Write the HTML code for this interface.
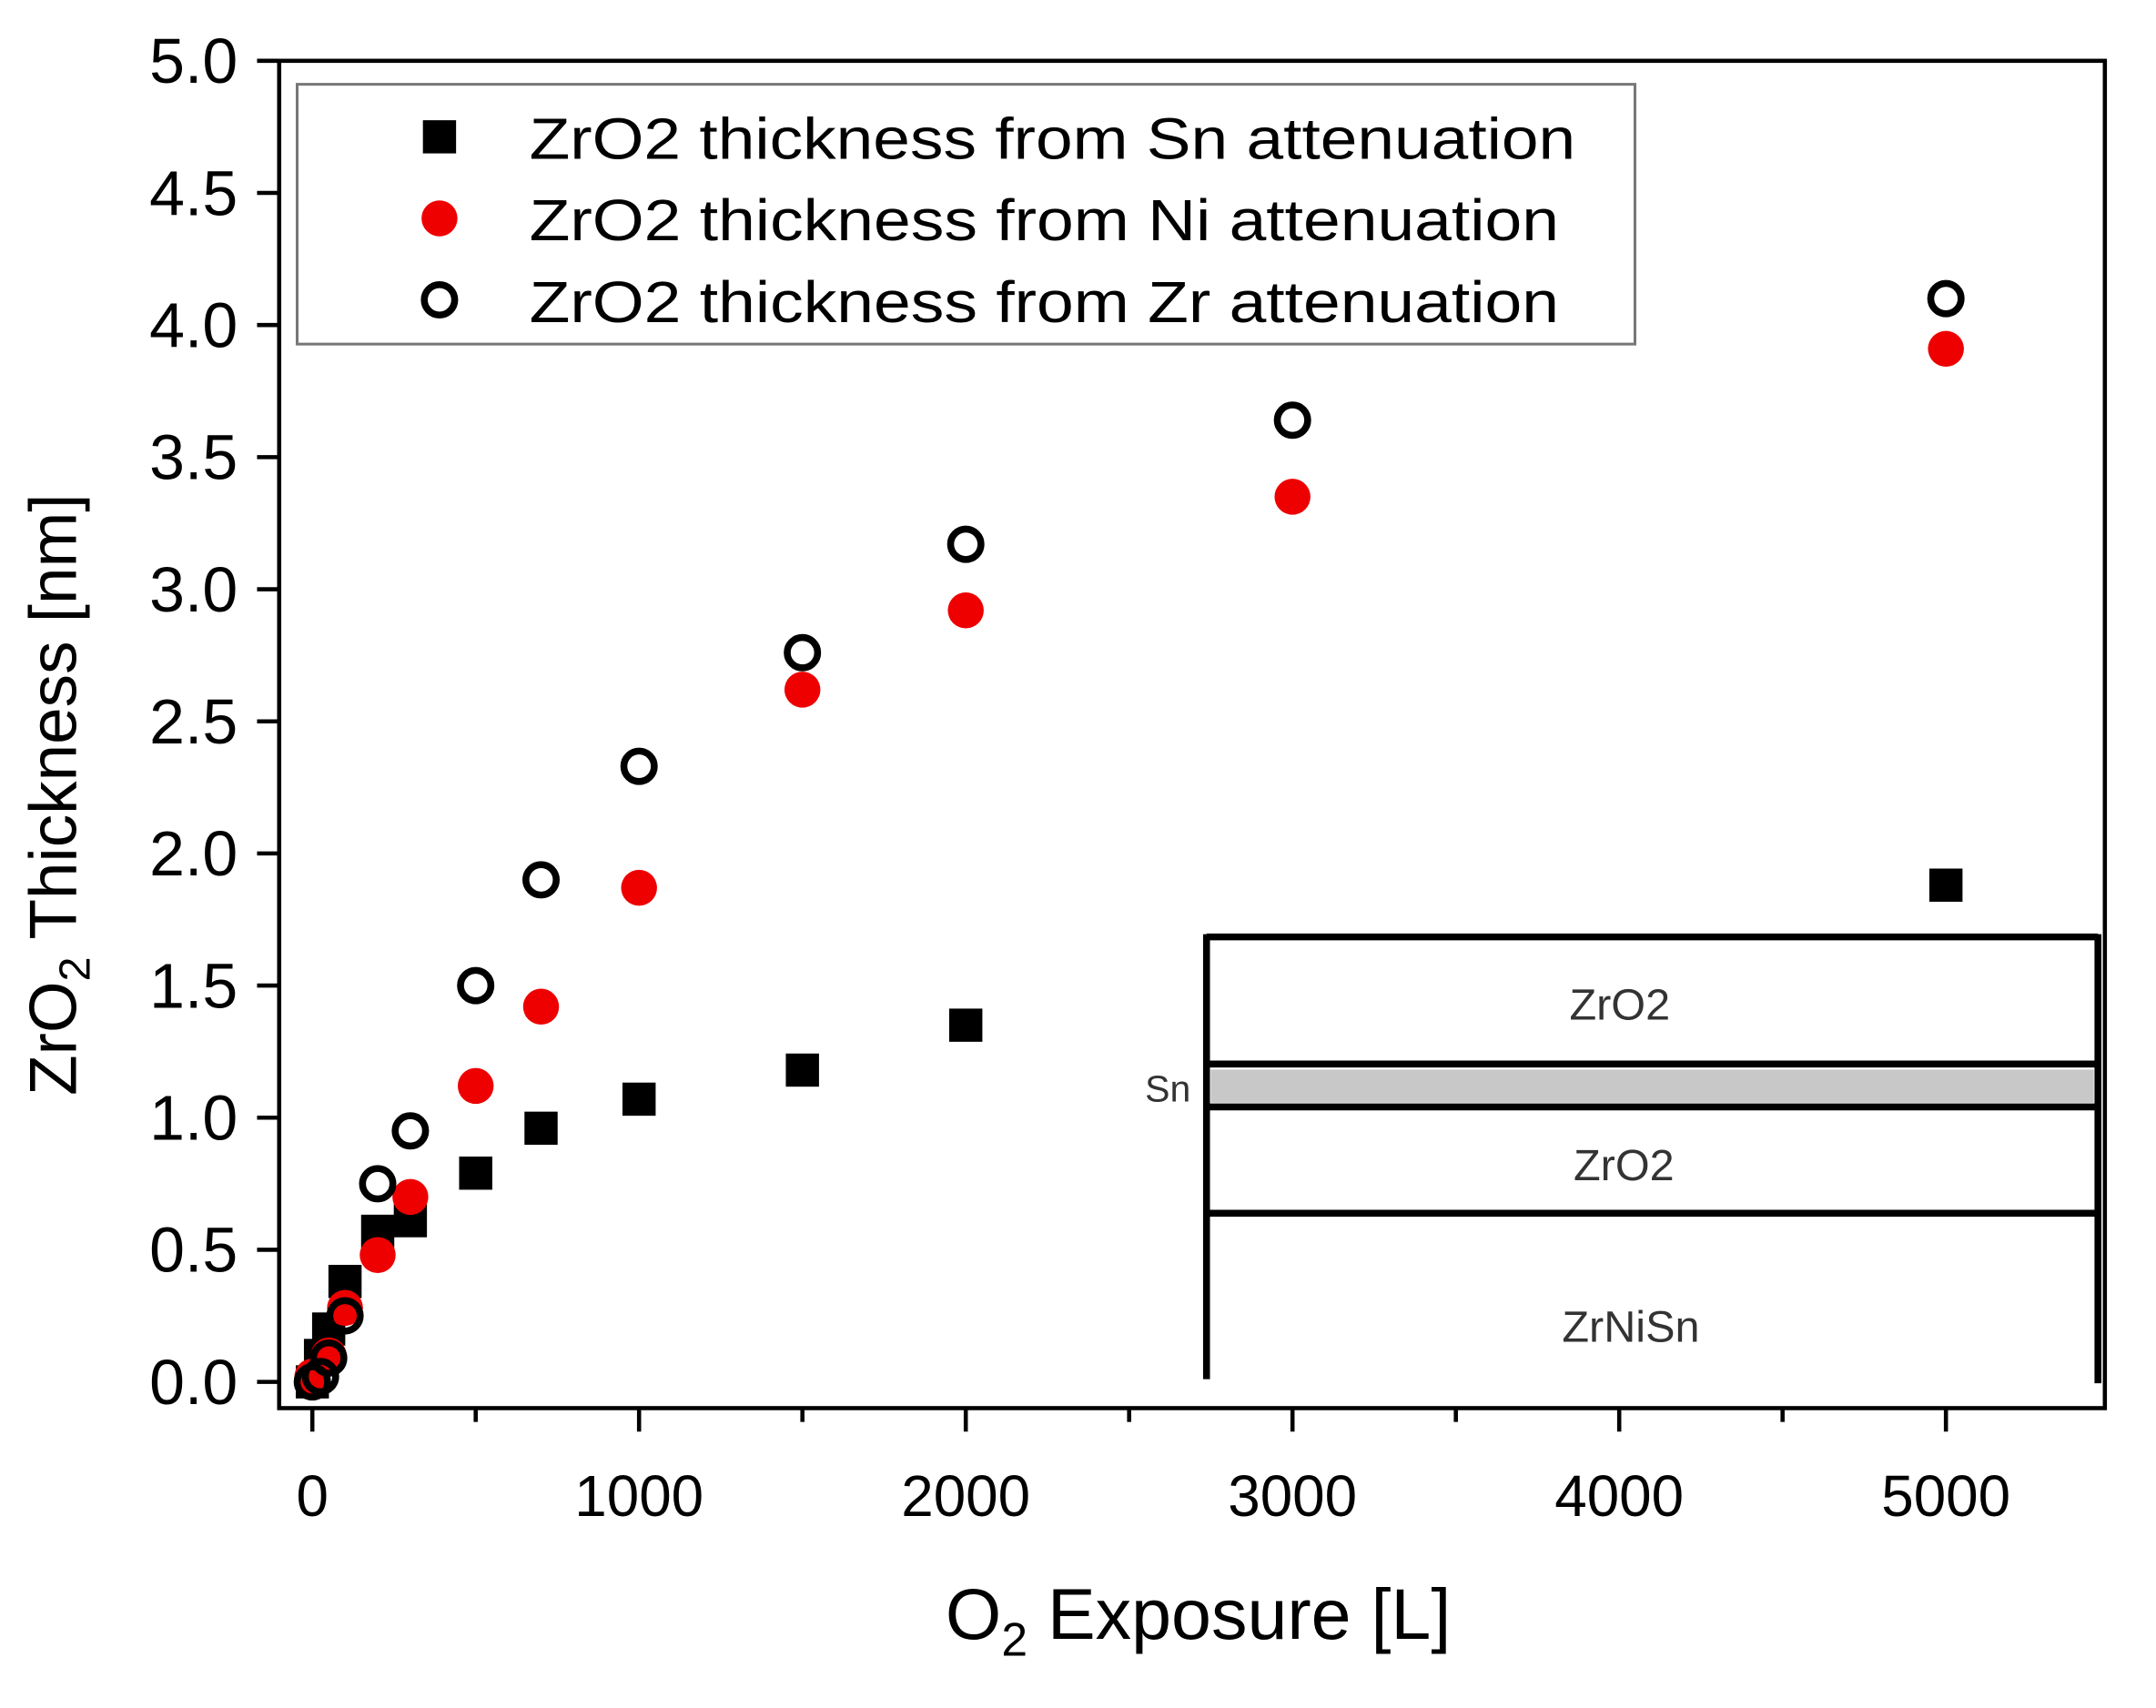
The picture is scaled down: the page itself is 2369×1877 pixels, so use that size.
<!DOCTYPE html>
<html><head><meta charset="utf-8"><style>
html,body{margin:0;padding:0;background:#fff}
svg{display:block}
text{font-family:"Liberation Sans",sans-serif}
</style></head><body>
<svg id="chart" width="2369" height="1877" viewBox="0 0 1560 1236" xmlns="http://www.w3.org/2000/svg">
<g id="axes"></g>
<g id="inset">
  <line x1="873" y1="678" x2="1518" y2="678" stroke="#000" stroke-width="5"/>
  <line x1="873" y1="676" x2="873" y2="998" stroke="#000" stroke-width="5"/>
  <line x1="1518" y1="676" x2="1518" y2="1001" stroke="#000" stroke-width="5"/>
  <rect x="876" y="774" width="639" height="24" fill="#c8c8c8"/>
  <line x1="873" y1="770" x2="1518" y2="770" stroke="#000" stroke-width="5"/>
  <line x1="873" y1="801" x2="1518" y2="801" stroke="#000" stroke-width="5"/>
  <line x1="873" y1="878" x2="1518" y2="878" stroke="#000" stroke-width="5"/>
  <text x="1172" y="738" font-size="32" fill="#333" text-anchor="middle">ZrO2</text>
  <text x="845" y="797" font-size="27" fill="#333" text-anchor="middle">Sn</text>
  <text x="1175" y="854" font-size="32" fill="#333" text-anchor="middle">ZrO2</text>
  <text x="1180" y="971" font-size="32" fill="#333" text-anchor="middle">ZrNiSn</text>
</g>
<g id="marks"></g>
<g id="legend">
  <rect x="215" y="61" width="968" height="188" fill="#fff" stroke="#777" stroke-width="2"/>
  <rect x="306" y="87" width="24" height="24" fill="#000"/>
  <text x="383" y="115" font-size="42" textLength="757" lengthAdjust="spacingAndGlyphs">ZrO2 thickness from Sn attenuation</text>
  <circle cx="318" cy="158" r="13" fill="#e00"/>
  <text x="383" y="174" font-size="42" textLength="745" lengthAdjust="spacingAndGlyphs">ZrO2 thickness from Ni attenuation</text>
  <circle cx="318" cy="217" r="11" fill="#fff" stroke="#000" stroke-width="5"/>
  <text x="383" y="233" font-size="42" textLength="745" lengthAdjust="spacingAndGlyphs">ZrO2 thickness from Zr attenuation</text>
</g>
<text x="0" y="0" font-size="48" text-anchor="middle" transform="translate(55,575) rotate(-90)">ZrO<tspan font-size="32" dy="10">2</tspan><tspan dy="-10"> Thickness [nm]</tspan></text>
<text x="867" y="1186" font-size="52" text-anchor="middle">O<tspan font-size="34" dy="12">2</tspan><tspan dy="-12"> Exposure [L]</tspan></text>
</svg>
<script>
const snX=[0,25,50,100,200,300,500,700,1000,1500,2000,5000];
const snY=[0,0.1,0.2,0.38,0.57,0.61,0.79,0.96,1.07,1.18,1.35,1.88];
const niX=[0,50,100,200,300,500,700,1000,1500,2000,3000,5000];
const niY=[0.02,0.1,0.28,0.48,0.7,1.12,1.42,1.87,2.62,2.92,3.35,3.91];
const zrX=[0,25,50,100,200,300,500,700,1000,1500,2000,3000,5000];
const zrY=[0,0.02,0.09,0.25,0.75,0.95,1.5,1.9,2.33,2.76,3.17,3.64,4.1];
const xTicks=[0,1000,2000,3000,4000,5000];
const xMinor=[500,1500,2500,3500,4500];
const yTicks=["0.0","0.5","1.0","1.5","2.0","2.5","3.0","3.5","4.0","4.5","5.0"];
const NS="http://www.w3.org/2000/svg";
function sx(v){return 226+v*(1408-226)/5000;}
function sy(v){return 1000-v*(1000-44)/5;}
function mk(tag,attrs,parent){const e=document.createElementNS(NS,tag);for(const k in attrs)e.setAttribute(k,attrs[k]);parent.appendChild(e);return e;}
const axes=document.getElementById('axes');
const frame=mk('rect',{x:202,y:44,width:1321,height:975,fill:'none',stroke:'#000','stroke-width':3},axes);


xTicks.forEach(v=>{
  const t=mk('line',{x1:sx(v),y1:1019,x2:sx(v),y2:1036,stroke:'#000','stroke-width':3},axes);
  
  
  const l=mk('text',{x:sx(v),y:1097,'font-size':42,'text-anchor':'middle'},axes);
  l.textContent=v;
  
  
});
xMinor.forEach(v=>{
  const t=mk('line',{x1:sx(v),y1:1019,x2:sx(v),y2:1029,stroke:'#000','stroke-width':3},axes);
  
  
});
yTicks.forEach(s=>{
  const v=parseFloat(s);
  const t=mk('line',{x1:186,y1:sy(v),x2:202,y2:sy(v),stroke:'#000','stroke-width':3},axes);
  
  
  const l=mk('text',{x:172,y:sy(v)+16,'font-size':46,'text-anchor':'end'},axes);
  l.textContent=s;
  
  
});
const marks=document.getElementById('marks');
snX.forEach((x,i)=>{
  const r=mk('rect',{x:sx(x)-12,y:sy(snY[i])-12,width:24,height:24,fill:'#000'},marks);
  
  
});
niX.forEach((x,i)=>{
  const c=mk('circle',{cx:sx(x),cy:sy(niY[i]),r:13,fill:'#e00'},marks);
  
  
});
zrX.forEach((x,i)=>{
  const c=mk('circle',{cx:sx(x),cy:sy(zrY[i]),r:11,fill:'none',stroke:'#000','stroke-width':5},marks);
  
  
});
</script>
</body></html>
